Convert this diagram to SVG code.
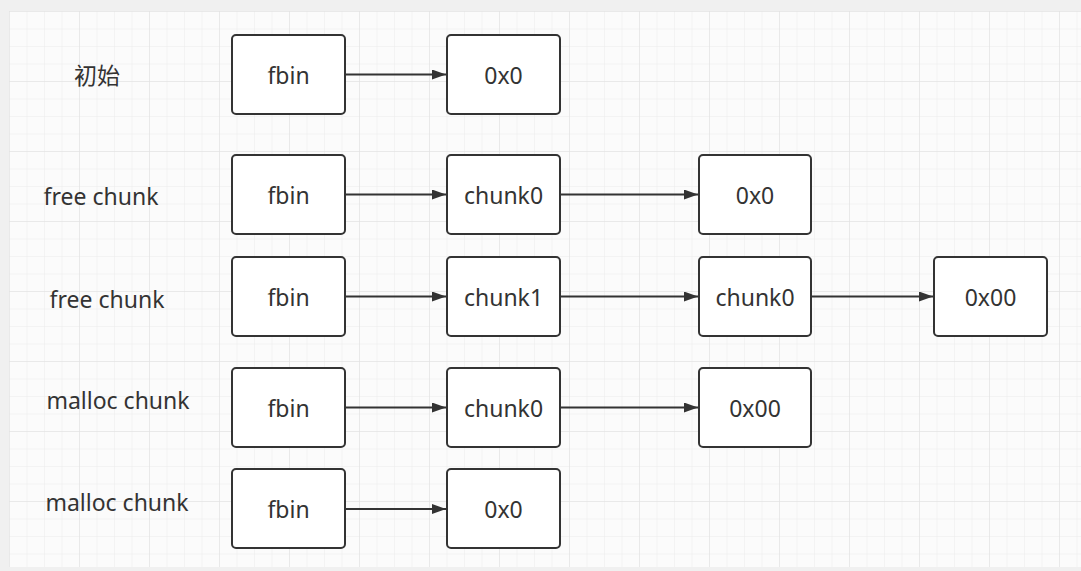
<svg xmlns="http://www.w3.org/2000/svg" width="1081" height="571" viewBox="0 0 1081 571">
<defs>
<pattern id="minor" x="9" y="11" width="17.5" height="17.5" patternUnits="userSpaceOnUse">
<path d="M0 0H17.5M0 0V17.5" fill="none" stroke="#ebebeb" stroke-width="1"/>
</pattern>
<pattern id="major" x="9" y="11" width="70" height="70" patternUnits="userSpaceOnUse">
<path d="M0 0H70M0 0V70" fill="none" stroke="#e0e0e0" stroke-width="1"/>
</pattern>
<marker id="arr" viewBox="0 0 14 10" refX="14" refY="5" markerWidth="14" markerHeight="10" markerUnits="userSpaceOnUse" orient="auto">
<path d="M0 0L14 5L0 10Z" fill="#333"/>
</marker>
<style>
.box{fill:#fff;stroke:#333;stroke-width:2}
.t{font-family:"Noto Sans","Noto Sans CJK SC",sans-serif;font-size:23px;fill:#333;text-anchor:middle;dominant-baseline:central}
.c{stroke:#333;stroke-width:2;fill:none;marker-end:url(#arr)}
</style>
</defs>
<rect width="1081" height="571" fill="#f0f0f0"/>
<rect x="9" y="11" width="1072" height="556" fill="#fbfbfb"/>
<rect x="9" y="11" width="1072" height="556" fill="url(#minor)"/>
<rect x="9" y="11" width="1072" height="556" fill="url(#major)"/>
<g id="labels">
<text class="t" x="97" y="75">初始</text>
<text class="t" x="101" y="196">free chunk</text>
<text class="t" x="107" y="299">free chunk</text>
<text class="t" x="118" y="400">malloc chunk</text>
<text class="t" x="117" y="502">malloc chunk</text>
</g>
<g id="connectors">
<path class="c" d="M345 74.5H446"/>
<path class="c" d="M345 194.5H446"/>
<path class="c" d="M560 194.5H698"/>
<path class="c" d="M345 296.5H446"/>
<path class="c" d="M560 296.5H698"/>
<path class="c" d="M811 296.5H933"/>
<path class="c" d="M345 407.5H446"/>
<path class="c" d="M560 407.5H698"/>
<path class="c" d="M345 509H446"/>
</g>
<g id="r1-fbin"><rect class="box" x="232" y="35" width="113" height="79" rx="4"/><text class="t" x="288.5" y="74.5">fbin</text></g>
<g id="r1-0x0"><rect class="box" x="447" y="35" width="113" height="79" rx="4"/><text class="t" x="503.5" y="74.5">0x0</text></g>
<g id="r2-fbin"><rect class="box" x="232" y="155" width="113" height="79" rx="4"/><text class="t" x="288.5" y="194.5">fbin</text></g>
<g id="r2-chunk0"><rect class="box" x="447" y="155" width="113" height="79" rx="4"/><text class="t" x="503.5" y="194.5">chunk0</text></g>
<g id="r2-0x0"><rect class="box" x="699" y="155" width="112" height="79" rx="4"/><text class="t" x="755" y="194.5">0x0</text></g>
<g id="r3-fbin"><rect class="box" x="232" y="257" width="113" height="79" rx="4"/><text class="t" x="288.5" y="296.5">fbin</text></g>
<g id="r3-chunk1"><rect class="box" x="447" y="257" width="113" height="79" rx="4"/><text class="t" x="503.5" y="296.5">chunk1</text></g>
<g id="r3-chunk0"><rect class="box" x="699" y="257" width="112" height="79" rx="4"/><text class="t" x="755" y="296.5">chunk0</text></g>
<g id="r3-0x00"><rect class="box" x="934" y="257" width="113" height="79" rx="4"/><text class="t" x="990.5" y="296.5">0x00</text></g>
<g id="r4-fbin"><rect class="box" x="232" y="368" width="113" height="79" rx="4"/><text class="t" x="288.5" y="407.5">fbin</text></g>
<g id="r4-chunk0"><rect class="box" x="447" y="368" width="113" height="79" rx="4"/><text class="t" x="503.5" y="407.5">chunk0</text></g>
<g id="r4-0x00"><rect class="box" x="699" y="368" width="112" height="79" rx="4"/><text class="t" x="755" y="407.5">0x00</text></g>
<g id="r5-fbin"><rect class="box" x="232" y="469" width="113" height="79" rx="4"/><text class="t" x="288.5" y="508.5">fbin</text></g>
<g id="r5-0x0"><rect class="box" x="447" y="469" width="113" height="79" rx="4"/><text class="t" x="503.5" y="508.5">0x0</text></g>
</svg>
